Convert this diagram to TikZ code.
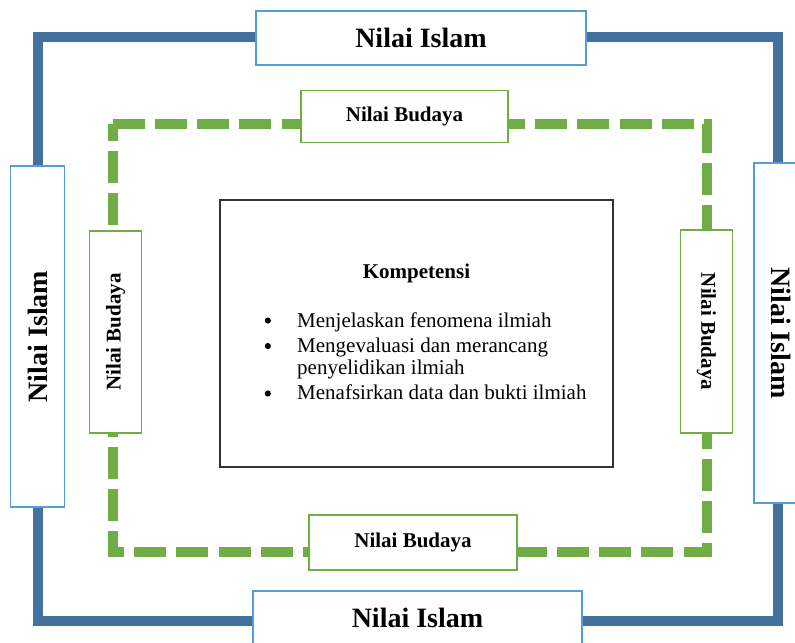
\documentclass[tikz,border=0pt]{standalone}
\usepackage{fontspec}
\usepackage{xcolor}
\usepackage{enumitem}
\setmainfont{Liberation Serif}
\definecolor{frameBlue}{HTML}{41719C}
\definecolor{boxBlue}{HTML}{5B9BD5}
\definecolor{frameGreen}{HTML}{70AD47}
\definecolor{boxGreen}{HTML}{70AD47}
\newcommand{\islamText}{\fontsize{21}{25}\selectfont\bfseries Nilai Islam}
\newcommand{\budayaText}{\fontsize{15.75}{19}\selectfont\bfseries Nilai Budaya}
\newcommand{\bigBullet}{\raisebox{0.35ex}{\tikz\fill (0,0) circle (2.3pt);}}
\tikzset{
  islamBox/.style={draw=boxBlue, line width=0.8pt, fill=white, inner sep=0pt,
    minimum width=#1, minimum height=40.5pt},
  budayaBox/.style={draw=boxGreen, line width=0.8pt, fill=white, inner sep=0pt,
    minimum width=#1, minimum height=39pt},
  kompBox/.style={draw=black!80, line width=1.1pt, fill=white, inner sep=0pt,
    minimum width=294.75pt, minimum height=200.25pt},
  blueFrame/.style={draw=frameBlue, line width=7.5pt, line join=miter},
  greenFrame/.style={draw=frameGreen, line width=7.5pt, line join=miter,
    dash pattern=on 24pt off 7.7pt}
}

\begin{document}
\begin{tikzpicture}[x=0.75pt, y=-0.75pt]
\useasboundingbox (0,0) rectangle (795,642);
% frame corners
\coordinate (blueNW) at (38,37);
\coordinate (blueNE) at (778,37);
\coordinate (blueSE) at (778,621);
\coordinate (blueSW) at (38,621);
\coordinate (greenNW) at (112.5,123.5);
\coordinate (greenNE) at (707,123.5);
\coordinate (greenSE) at (707,552);
\coordinate (greenSW) at (112.5,552);
\draw[blueFrame] (blueNW) -- (blueNE) -- (blueSE) -- (blueSW) -- cycle;
\draw[greenFrame] (greenNW) -- (greenNE) -- (greenSE) -- (greenSW) -- cycle;

% Nilai Islam
\node[islamBox=247.5pt] (islamTop) at (421,38) {\islamText};
\node[islamBox=246.75pt] (islamBottom) at (417.5,618) {\islamText};
\node[islamBox=255.75pt, rotate=90] (islamLeft) at (37.5,336.5) {\islamText};
\node[islamBox=255pt, rotate=-90] (islamRight) at (781,333) {\islamText};

% Nilai Budaya
\node[budayaBox=155.25pt] (budayaTop) at (404.5,116.5) {\budayaText};
\node[budayaBox=156pt, minimum height=41.25pt] (budayaBottom) at (413,542.5) {\budayaText};
\node[budayaBox=151.5pt, rotate=90] (budayaLeft) at (115.5,332) {\budayaText};
\node[budayaBox=152.25pt, rotate=-90] (budayaRight) at (706.5,331.5) {\budayaText};

% Kompetensi
\node[kompBox] (komp) at (416.5,333.5) {};
\node[anchor=base, inner sep=0pt] (kompTitle) at (416.5,278)
  {\fontsize{15.75}{19}\selectfont\bfseries Kompetensi};
\node[anchor=base west, inner sep=0pt] (kompList) at (264.5,327) {%
  \begin{minipage}[t]{252pt}
  \fontsize{15.75}{16.5}\selectfont\raggedright
  \begin{itemize}[label=\bigBullet, leftmargin=*, labelsep=19.75pt,
    topsep=0pt, partopsep=0pt, parsep=0pt, itemsep=2.6pt]
  \item Menjelaskan fenomena ilmiah
  \item Mengevaluasi dan merancang penyelidikan ilmiah
  \item Menafsirkan data dan bukti ilmiah
  \end{itemize}
  \end{minipage}};
\end{tikzpicture}
\end{document}
